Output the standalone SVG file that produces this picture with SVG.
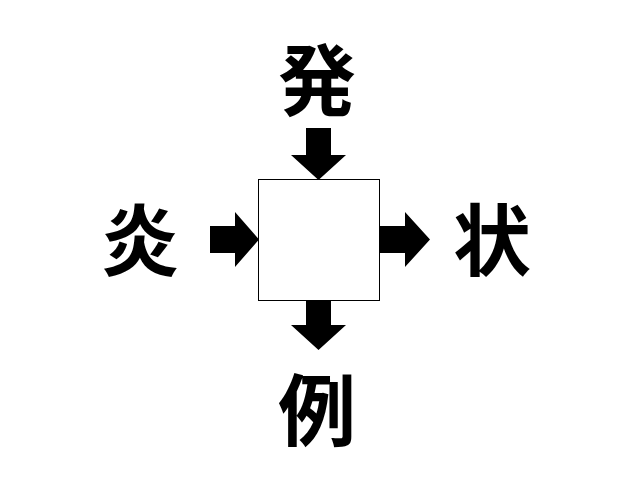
<svg xmlns="http://www.w3.org/2000/svg" width="640" height="480" viewBox="0 0 640 480">
<style>
.k{font-family:"Noto Sans CJK JP","Noto Sans CJK SC",sans-serif;font-weight:bold;font-size:78px;text-anchor:middle;fill:#000}
.a{fill:#000}
</style>
<rect width="640" height="480" fill="#fff"/>
<g id="box"><rect x="258.5" y="179.5" width="121" height="121" fill="#fff" stroke="#000" stroke-width="1"/></g>
<g id="top"><text class="k" x="317" y="110">発</text></g>
<g id="left"><text class="k" x="140" y="270">炎</text></g>
<g id="right"><text class="k" x="492" y="270">状</text></g>
<g id="bottom"><text class="k" x="317" y="440">例</text></g>
<g id="connectors">
<polygon class="a" points="306,128 331,128 331,155 346,155 318.5,180 291,155 306,155"/>
<polygon class="a" points="210,226 235,226 235,212 259,239.5 235,267 235,253 210,253"/>
<polygon class="a" points="380,226 405,226 405,212 430,239.5 405,267 405,253 380,253"/>
<polygon class="a" points="306,300 331,300 331,325 346,325 318.5,350 291,325 306,325"/>
</g>
</svg>
